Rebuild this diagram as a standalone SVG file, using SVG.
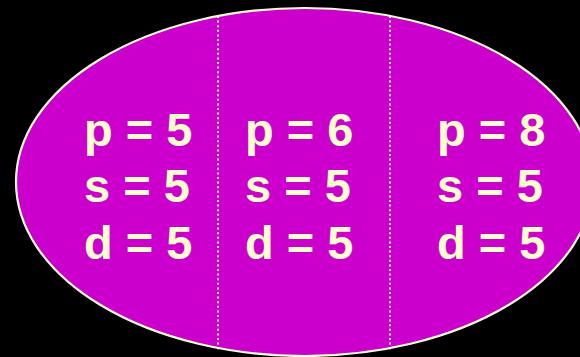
<svg xmlns="http://www.w3.org/2000/svg" width="580" height="357" viewBox="0 0 580 357">
<style>
.t{font-family:"Liberation Sans",Arial,sans-serif;font-weight:bold;font-size:47px;fill:#FFFFCC}
.d{stroke:#FFFFFF;stroke-width:2;stroke-dasharray:2,2.6;fill:none}
</style>
<rect width="580" height="357" fill="#000000"/>
<g id="ellipse">
<ellipse cx="304.5" cy="182" rx="288.5" ry="174" fill="#CC00CC" stroke="#FFFFCC" stroke-width="2.2"/>
</g>
<g id="dividers">
<line class="d" x1="218" y1="16" x2="218" y2="350"/>
<line class="d" x1="390" y1="16" x2="390" y2="350"/>
</g>
<g id="col1">
<text class="t" x="84" y="146">p = 5</text>
<text class="t" x="84" y="202">s = 5</text>
<text class="t" x="84" y="259">d = 5</text>
</g>
<g id="col2">
<text class="t" x="245" y="146">p = 6</text>
<text class="t" x="245" y="202">s = 5</text>
<text class="t" x="245" y="259">d = 5</text>
</g>
<g id="col3">
<text class="t" x="437" y="146">p = 8</text>
<text class="t" x="437" y="202">s = 5</text>
<text class="t" x="437" y="259">d = 5</text>
</g>
</svg>
